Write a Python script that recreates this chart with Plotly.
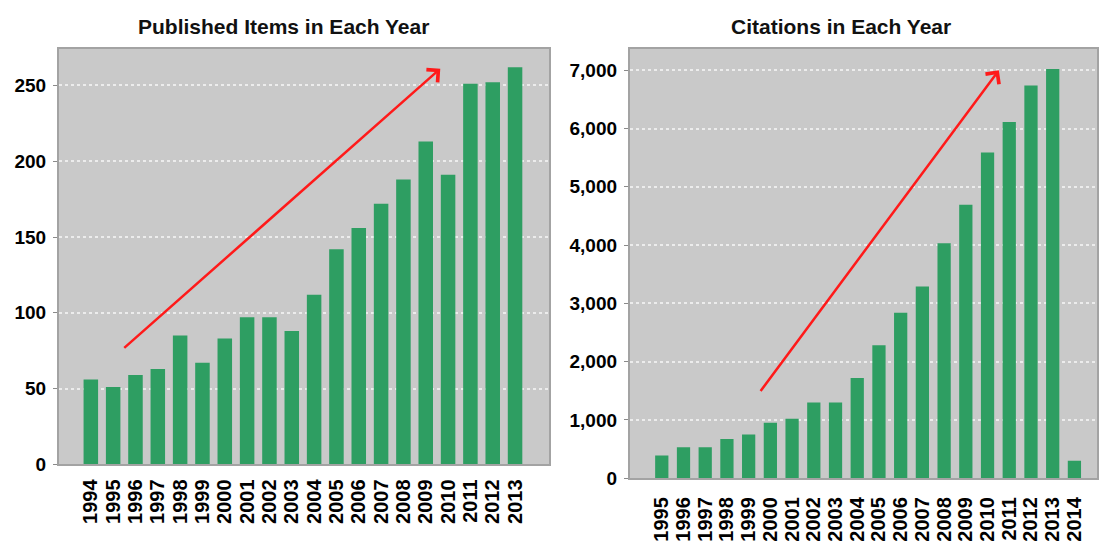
import plotly.graph_objects as go

# Published items per year
pub_years = list(range(1994, 2014))
pub_counts = [56, 51, 59, 63, 85, 67, 83, 97, 97, 88,
              112, 142, 156, 172, 188, 213, 191, 251, 252, 262]
pub_ticks = [0, 50, 100, 150, 200, 250]

# Citations per year
cit_years = list(range(1995, 2015))
cit_counts = [390, 530, 530, 670, 750, 950, 1020, 1300, 1300, 1720,
              2280, 2840, 3290, 4030, 4690, 5590, 6110, 6740, 7020, 300]
cit_ticks = [0, 1000, 2000, 3000, 4000, 5000, 6000, 7000]

# Trend arrows (tail -> head), in data units
pub_arrow = dict(x0=1995.43, y0=76, x1=2009.65, y1=261)
cit_arrow = dict(x0=1999.5, y0=1472, x1=2010.52, y1=7000)

BAR = "#2e9e62"
PLOT_BG = "#c9c9c9"
FRAME = "#a3a3a3"
FAMILY = "Liberation Sans, Arial, sans-serif"
YTICK_FONT = dict(family=FAMILY, size=19, color="#000000", weight="bold")
XTICK_FONT = dict(family=FAMILY, size=20, color="#000000", weight="bold")
TITLE_FONT = dict(family=FAMILY, size=21, color="#111111", weight="bold")

fig = go.Figure()
fig.add_trace(go.Bar(x=pub_years, y=pub_counts, marker_color=BAR, marker_line_width=0,
                     width=0.65, xaxis="x", yaxis="y", showlegend=False))
fig.add_trace(go.Bar(x=cit_years, y=cit_counts, marker_color=BAR, marker_line_width=0,
                     width=0.61, xaxis="x2", yaxis="y2", showlegend=False))

W, H = 1099, 546

def px_x(p):
    return p / W

def px_y(p):
    return 1 - p / H

common_x = dict(showgrid=False, zeroline=False, showline=True, mirror=True,
                linecolor=FRAME, linewidth=2, ticks="", tickangle=-90,
                tickfont=XTICK_FONT, fixedrange=True)
common_y = dict(showgrid=True, gridcolor="#ececec", griddash="dot", gridwidth=1.5,
                zeroline=False, showline=True, mirror=True, linecolor=FRAME, linewidth=2,
                ticks="outside", ticklen=4, tickcolor="#8a8a8a", tickfont=YTICK_FONT,
                ticklabelstandoff=3, fixedrange=True)

fig.update_layout(
    width=W, height=H,
    margin=dict(l=0, r=0, t=0, b=0),
    paper_bgcolor="#ffffff",
    plot_bgcolor=PLOT_BG,
    bargap=0.35,
    xaxis=dict(common_x, domain=[px_x(59), px_x(550)], anchor="y",
               range=[1994 - 1.43, 1994 + 20.52], ticklabelstandoff=5,
               tickvals=pub_years, ticktext=[str(v) for v in pub_years]),
    yaxis=dict(common_y, domain=[px_y(474), px_y(50)], anchor="x",
               range=[0, 274], tickvals=pub_ticks),
    xaxis2=dict(common_x, domain=[px_x(631), 1.0], anchor="y2",
                range=[1995 - 1.47, 2015.04], ticklabelstandoff=9,
                tickvals=cit_years, ticktext=[str(v) for v in cit_years]),
    yaxis2=dict(common_y, domain=[px_y(488), px_y(50)], anchor="x2",
                range=[0, 7365], tickvals=cit_ticks, tickformat=","),
)

fig.add_annotation(text="Published Items in Each Year", xref="paper", yref="paper",
                   x=px_x(284), y=px_y(27), xanchor="center", yanchor="middle",
                   showarrow=False, font=TITLE_FONT)
fig.add_annotation(text="Citations in Each Year", xref="paper", yref="paper",
                   x=px_x(843), y=px_y(27), xanchor="center", yanchor="middle",
                   showarrow=False, font=TITLE_FONT)

for a, xr, yr in [(pub_arrow, "x", "y"), (cit_arrow, "x2", "y2")]:
    fig.add_annotation(x=a["x1"], y=a["y1"], ax=a["x0"], ay=a["y0"],
                       xref=xr, yref=yr, axref=xr, ayref=yr, text="",
                       showarrow=True, arrowhead=4, arrowsize=1.3, arrowwidth=2.5,
                       arrowcolor="#ff1a1a")

fig.write_html("out.html")
